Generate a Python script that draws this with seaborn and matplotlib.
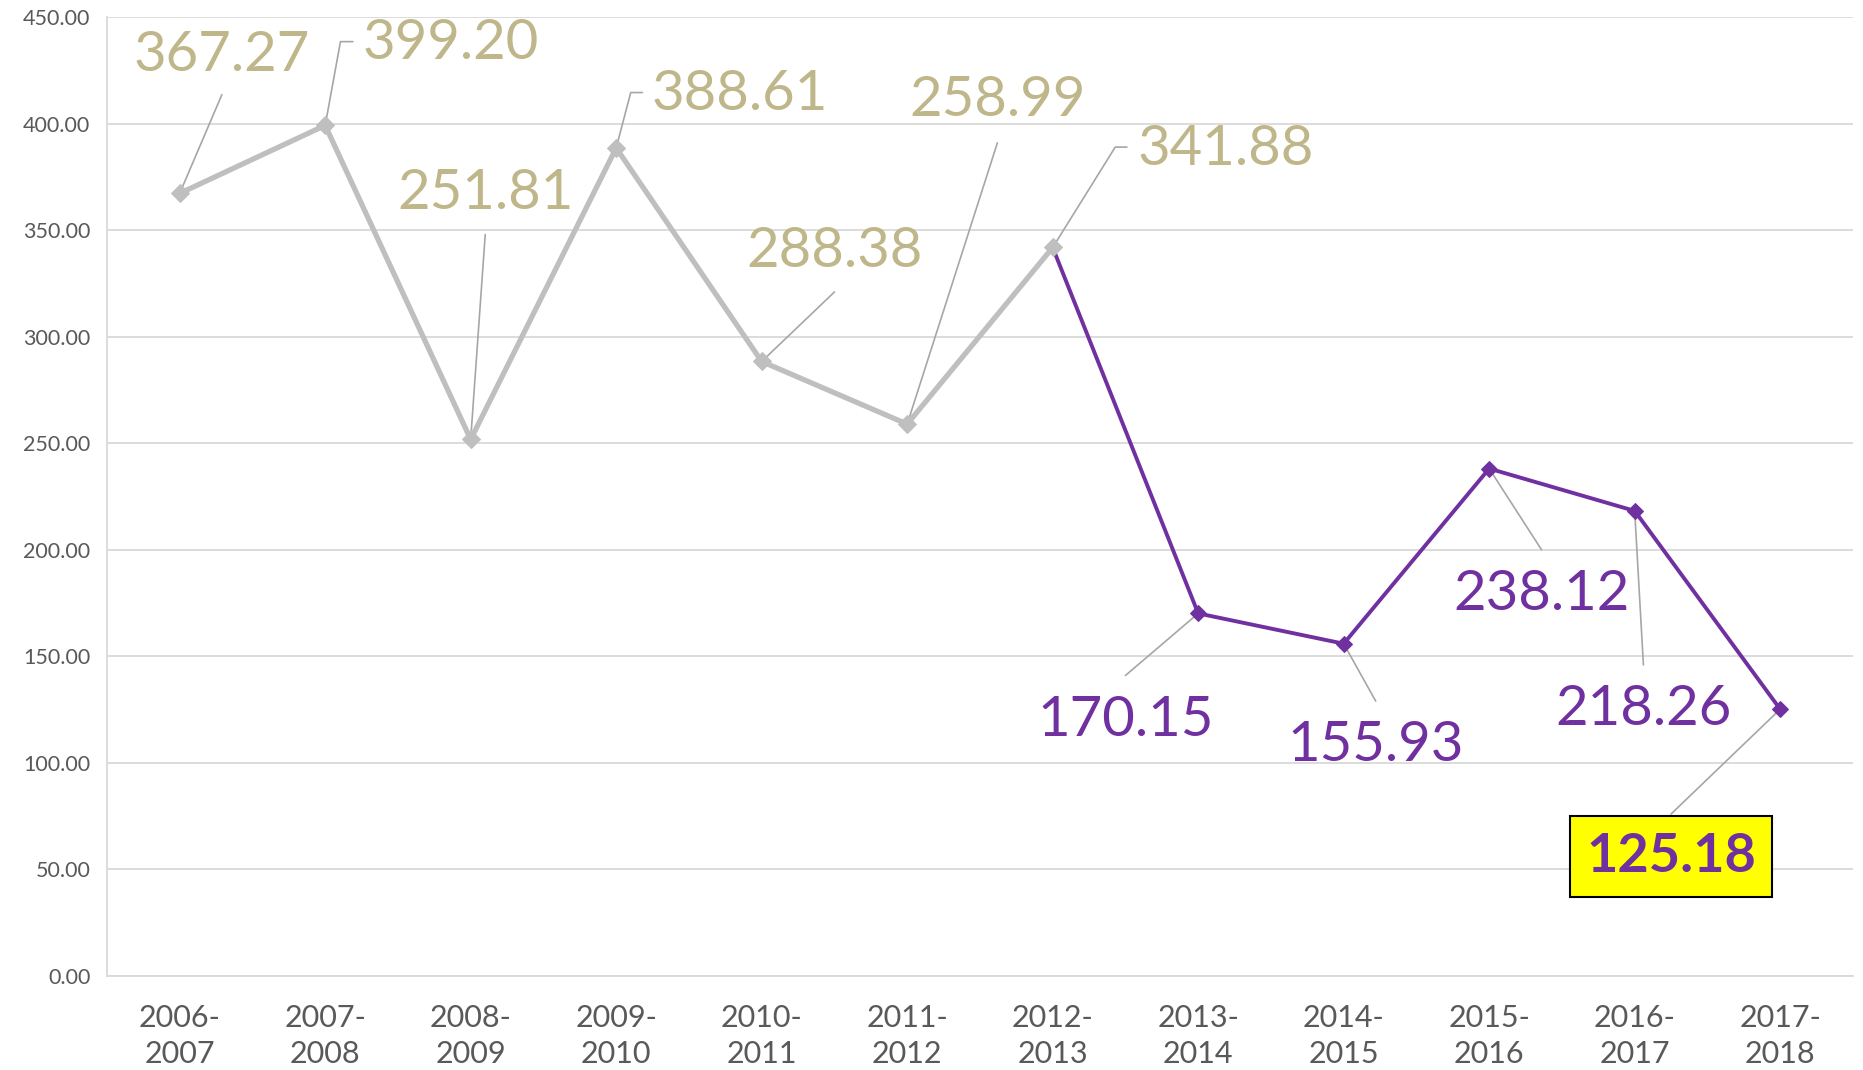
import numpy as np
import pandas as pd
import seaborn as sns
import matplotlib.pyplot as plt

seasons = ["2006-\n2007", "2007-\n2008", "2008-\n2009", "2009-\n2010", "2010-\n2011",
           "2011-\n2012", "2012-\n2013", "2013-\n2014", "2014-\n2015", "2015-\n2016",
           "2016-\n2017", "2017-\n2018"]
values = [367.27, 399.20, 251.81, 388.61, 288.38, 258.99, 341.88,
          170.15, 155.93, 238.12, 218.26, 125.18]
split = 6  # last index of the grey part, purple starts here

sns.set_theme(style="white")
plt.rcParams['font.family'] = ['Lato', 'DejaVu Sans']

df = pd.DataFrame({"idx": np.arange(len(values)), "val": values})
old = df[df.idx <= split]
new = df[df.idx >= split]

fig = plt.figure(figsize=(18.63, 10.70), dpi=100)
ax = fig.add_axes([0.0574, 0.0879, 0.9372, 0.8961])

grey = "#BFBFBF"
purple = "#7030A0"
gold = "#BFB68A"
lead = "#A6A6A6"

sns.lineplot(data=new, x="idx", y="val", color=purple, lw=2.8, marker="D",
             markersize=8, markeredgecolor=purple, ax=ax, zorder=3)
sns.lineplot(data=old, x="idx", y="val", color=grey, lw=3.8, marker="D",
             markersize=9, markeredgecolor=grey, ax=ax, zorder=4)

# label placement (x, y in data units) and leader start / elbow
lab_pos = [(0.29, 432), (1.86, 437.6), (2.10, 367), (3.85, 413.6), (4.50, 340),
           (5.62, 411), (7.19, 388), (6.50, 120), (8.22, 108), (9.36, 179),
           (10.06, 125), (10.25, 56)]
leaders = [[(0.29, 413.6)],
           [(1.19, 438.5), (1.105, 438.5)],
           [(2.10, 348)],
           [(3.18, 414.6), (3.10, 414.6)],
           [(4.50, 321)],
           [(5.62, 391)],
           [(6.51, 389), (6.43, 389)],
           [(6.50, 141)],
           [(8.22, 129)],
           [(9.36, 200)],
           [(10.06, 146)],
           [(10.25, 76)]]

for i, v in enumerate(values):
    pts = leaders[i] + [(i, v)]
    ax.plot([p[0] for p in pts], [p[1] for p in pts], color=lead, lw=1.2, zorder=2)
    col = gold if i <= split else purple
    lx, ly = lab_pos[i]
    if i == len(values) - 1:
        ax.text(lx, ly, f"{v:.2f}", color=col, fontsize=39, fontweight="bold",
                ha="center", va="center", zorder=5,
                bbox=dict(boxstyle="square,pad=0.3", fc="#FFFF00", ec="black", lw=1.5))
    else:
        ax.text(lx, ly, f"{v:.2f}", color=col, fontsize=40.5, ha="center", va="center", zorder=5)

ax.set_xlim(-0.5, 11.5)
ax.set_ylim(0, 450)
ax.set_yticks(np.arange(0, 451, 50))
ax.set_yticklabels([f"{t:.2f}" for t in np.arange(0, 451, 50)], fontsize=15.5, color="#595959")
ax.set_xticks(range(len(seasons)))
ax.set_xticklabels(seasons, fontsize=22, color="#595959", linespacing=1.38)
ax.tick_params(axis="x", length=0, pad=20)
ax.tick_params(axis="y", length=0, pad=12)
ax.set_xlabel("")
ax.set_ylabel("")
ax.grid(axis="y", color="#D9D9D9", lw=1.3)
ax.set_axisbelow(True)
for s in ["top", "right"]:
    ax.spines[s].set_visible(False)
for s in ["left", "bottom"]:
    ax.spines[s].set_color("#D9D9D9")
    ax.spines[s].set_linewidth(1.3)

fig.savefig("out.png", dpi=100)
